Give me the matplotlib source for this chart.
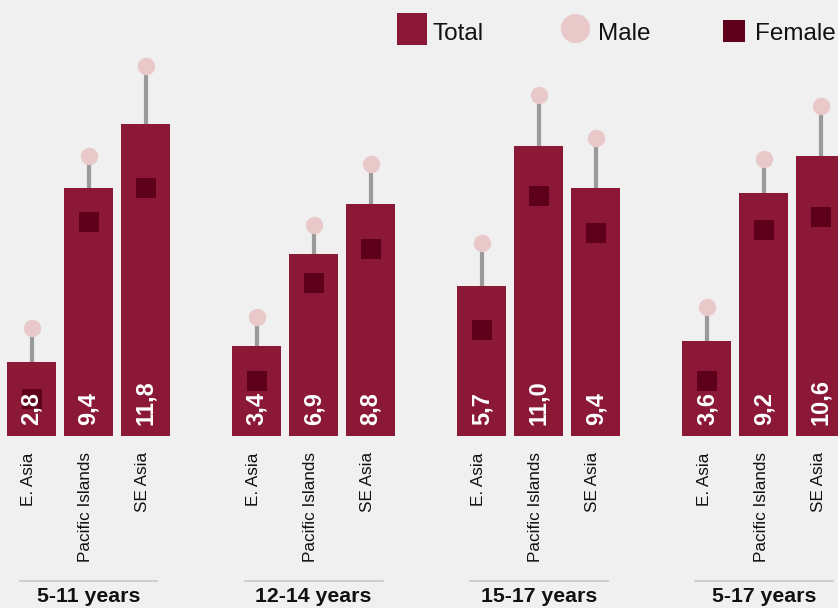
import matplotlib
matplotlib.use("Agg")
import matplotlib.pyplot as plt
from matplotlib.patches import Rectangle

plt.rcParams['font.family'] = ['Liberation Sans', 'DejaVu Sans']

# age groups and regions
groups = ["5-11 years", "12-14 years", "15-17 years", "5-17 years"]
regions = ["E. Asia", "Pacific Islands", "SE Asia"]

# values, one entry per (group, region)
total = [2.8, 9.4, 11.8, 3.4, 6.9, 8.8, 5.7, 11.0, 9.4, 3.6, 9.2, 10.6]
male = [4.1, 10.6, 14.0, 4.5, 8.0, 10.3, 7.3, 12.9, 11.3, 4.9, 10.5, 12.5]
female = [1.4, 8.1, 9.4, 2.1, 5.8, 7.1, 4.0, 9.1, 7.7, 2.1, 7.8, 8.3]

BG = "#f0f0f0"
C_TOTAL = "#8c1838"
C_MALE = "#e8c8c8"
C_FEMALE = "#5e001c"
C_STEM = "#9a9a9a"

GROUP_STEP = 3.95
BAR_W = 0.86

fig = plt.figure(figsize=(8.38, 6.08), dpi=100, facecolor=BG)
ax = fig.add_axes([0, 0, 1, 1])
ax.set_facecolor(BG)
ax.axis("off")

xs = [g * GROUP_STEP + i for g in range(len(groups)) for i in range(len(regions))]

# stems from bar top up to the male marker
ax.vlines(xs, total, male, color=C_STEM, lw=3, zorder=1)
ax.bar(xs, total, width=BAR_W, color=C_TOTAL, zorder=2)
ax.plot(xs, male, "o", ms=12.5, mew=0, color=C_MALE, zorder=3)
ax.plot(xs, female, "s", ms=14.5, mew=0, color=C_FEMALE, zorder=3)

for x, v in zip(xs, total):
    ax.text(x, 0.4, f"{v:.1f}".replace(".", ","), rotation=90, ha="center",
            va="bottom", color="white", fontsize=17, fontweight="bold", zorder=4)

for k, x in enumerate(xs):
    ax.text(x - 0.05, -0.62, regions[k % len(regions)], rotation=90, ha="center",
            va="top", fontsize=12.3, color="#111111")

for g, name in enumerate(groups):
    cx = g * GROUP_STEP + 1
    ax.plot([cx - 1.21, cx + 1.21], [-5.5, -5.5], color="#cccccc", lw=1.3)
    ax.text(cx, -6.07, name, ha="center", va="center", fontsize=15.3,
            fontweight="bold", color="#111111")

ax.set_xlim(-0.553, -0.553 + 838 / 57)
ax.set_ylim(-172 / 26.4, 436 / 26.4)

# legend drawn in pixel coordinates on an overlay
lg = fig.add_axes([0, 0, 1, 1])
lg.set_xlim(0, 838)
lg.set_ylim(608, 0)
lg.axis("off")
lg.add_patch(Rectangle((397, 13), 30, 32, color=C_TOTAL, lw=0))
lg.text(432, 40.5, "Total", va="baseline", ha="left", fontsize=17.5, color="#111111")
lg.plot([575], [28], "o", ms=21, mew=0, color=C_MALE)
lg.text(598, 40.5, "Male", va="baseline", ha="left", fontsize=17.5, color="#111111")
lg.add_patch(Rectangle((723, 20), 22, 22, color=C_FEMALE, lw=0))
lg.text(755, 40.5, "Female", va="baseline", ha="left", fontsize=17.5, color="#111111")

fig.savefig("out.png", dpi=100, facecolor=BG)
